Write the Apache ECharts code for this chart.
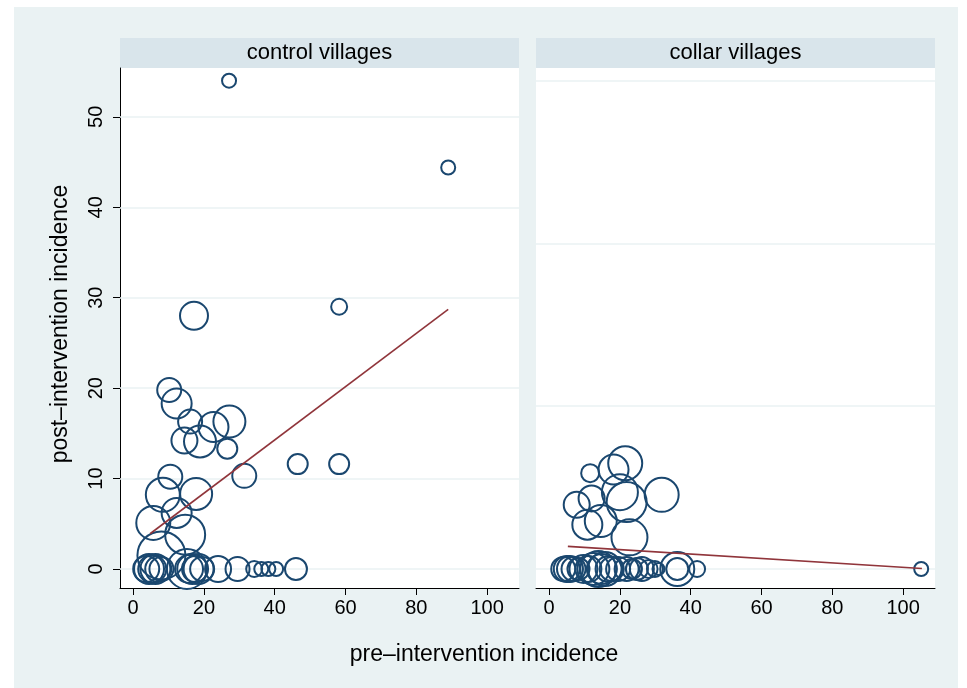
<!DOCTYPE html>
<html><head><meta charset="utf-8">
<script src="https://cdn.jsdelivr.net/npm/echarts@6/dist/echarts.min.js"></script>
<style>html,body{margin:0;padding:0;background:#fff}#c{width:967px;height:688px}</style>
</head><body><div id="c"></div><script>
const panelTitles = ['control villages', 'collar villages'];
const xTitle = 'pre–intervention incidence';
const yTitle = 'post–intervention incidence';
const xTicks = [0, 20, 40, 60, 80, 100];
const yTicks = [0, 10, 20, 30, 40, 50];
const gridLinesControl = [0, 10, 20, 30, 40, 50];
const gridLinesCollar = [0, 18, 36, 54];

// control villages: pre-intervention incidence, post-intervention incidence, weight
const controlPre = [27.1, 89.0, 17.2, 58.2, 10.2, 12.3, 16.1, 14.5, 18.9, 22.7, 27.2, 26.6,
  31.4, 46.5, 58.2, 10.5, 17.8, 8.4, 12.3, 5.7, 14.7, 8.0,
  3.7, 4.5, 5.4, 6.3, 7.1, 8.0, 15.2, 15.8, 16.7, 17.5, 18.5, 19.5, 24.0, 29.5, 34.2, 36.2, 38.2, 40.4, 46.0];
const controlPost = [54.0, 44.4, 28.0, 29.0, 19.8, 18.3, 16.3, 14.2, 14.1, 15.7, 16.3, 13.3,
  10.3, 11.6, 11.6, 10.2, 8.3, 8.2, 6.2, 5.1, 3.8, 1.5,
  0, 0, 0, 0, 0, 0, 0, 0, 0, 0, 0, 0, 0, 0, 0, 0, 0, 0, 0];
const controlWeight = [49, 49, 196, 64, 144, 225, 144, 169, 256, 225, 256, 100,
  144, 100, 100, 144, 256, 289, 225, 289, 400, 576,
  169, 225, 196, 225, 169, 144, 400, 196, 225, 169, 225, 144, 169, 144, 64, 49, 49, 49, 121];
const controlFitPre = [4.8, 89.0];
const controlFitPost = [3.9, 28.7];

// collar villages
const collarPre = [11.6, 21.5, 18.2, 31.8, 7.8, 12.0, 20.0, 21.9, 10.8, 14.6, 22.7,
  4.0, 5.0, 5.9, 6.9, 8.3, 9.7, 11.1, 12.5, 13.9, 14.9, 15.8, 16.8, 17.7, 19.5,
  21.9, 23.4, 24.8, 26.2, 28.1, 29.9, 30.9, 36.2, 36.2, 41.8, 105.1];
const collarPost = [10.6, 11.7, 11.0, 8.2, 7.1, 7.8, 8.5, 7.4, 4.9, 5.3, 3.5,
  0, 0, 0, 0, 0, 0, 0, 0, 0, 0, 0, 0, 0, 0,
  0, 0, 0, 0, 0, 0, 0, 0, 0, 0, 0];
const collarWeight = [81, 289, 225, 289, 169, 169, 324, 400, 225, 256, 324,
  144, 169, 169, 144, 121, 196, 169, 256, 324, 225, 289, 169, 144, 144,
  144, 100, 121, 144, 81, 64, 36, 289, 121, 64, 49];
const collarFitPre = [5.3, 105.3];
const collarFitPost = [2.5, 0.05];

const FONT = 'Liberation Sans, Arial, Helvetica, sans-serif';
const NAVY = '#1a476f';
const MAROON = '#90353b';
const GRIDC = '#eaf2f3';

const chart = echarts.init(document.getElementById('c'), null, {renderer: 'canvas'});

function xAxisDef(i) {
  return {
    type: 'value', gridIndex: i, min: -3.7, max: 109,
    axisLine: {show: true, onZero: false, lineStyle: {color: '#000', width: 1}},
    axisTick: {show: true, length: 7, customValues: xTicks, lineStyle: {color: '#000', width: 1}},
    axisLabel: {customValues: xTicks, fontSize: 20, color: '#000', margin: 10, fontFamily: FONT},
    splitLine: {show: false}
  };
}
function yAxisDef(i, visible) {
  return {
    type: 'value', gridIndex: i, min: -2.1, max: 55.4,
    axisLine: {show: visible, onZero: false, lineStyle: {color: '#000', width: 1}},
    axisTick: {show: visible, length: 7, customValues: yTicks, lineStyle: {color: '#000', width: 1}},
    axisLabel: {show: visible, customValues: yTicks, rotate: 90, fontSize: 20, color: '#000', margin: 14, fontFamily: FONT},
    splitLine: {show: false}
  };
}
function gridSeries(i, vals) {
  return {
    type: 'line', xAxisIndex: i, yAxisIndex: i, data: [], z: 1, silent: true,
    markLine: {
      z: 1, silent: true, symbol: ['none', 'none'], animation: false,
      label: {show: false},
      lineStyle: {color: GRIDC, width: 1.5, type: 'solid'},
      emphasis: {disabled: true},
      data: vals.map(v => ({yAxis: v}))
    }
  };
}
function scatterSeries(i, xs, ys, ws) {
  return {
    type: 'scatter', xAxisIndex: i, yAxisIndex: i, z: 3, silent: true,
    data: xs.map((x, k) => [x, ys[k], ws[k]]),
    symbol: 'circle',
    symbolSize: d => 2 * Math.sqrt(d[2]),
    itemStyle: {color: 'rgba(255,255,255,0)', borderColor: NAVY, borderWidth: 2, opacity: 1}
  };
}
function fitSeries(i, xs, ys) {
  return {
    type: 'line', xAxisIndex: i, yAxisIndex: i, z: 4, silent: true,
    data: xs.map((x, k) => [x, ys[k]]),
    showSymbol: false, symbol: 'none',
    lineStyle: {color: MAROON, width: 1.6}
  };
}

const option = {
  animation: false,
  backgroundColor: '#eaf2f3',
  grid: [
    {left: 120, top: 68, width: 399, height: 520, show: true, backgroundColor: '#fff', borderWidth: 0, containLabel: false},
    {left: 536, top: 68, width: 399, height: 520, show: true, backgroundColor: '#fff', borderWidth: 0, containLabel: false}
  ],
  xAxis: [xAxisDef(0), xAxisDef(1)],
  yAxis: [yAxisDef(0, true), yAxisDef(1, false)],
  series: [
    gridSeries(0, gridLinesControl),
    gridSeries(1, gridLinesCollar),
    scatterSeries(0, controlPre, controlPost, controlWeight),
    scatterSeries(1, collarPre, collarPost, collarWeight),
    fitSeries(0, controlFitPre, controlFitPost),
    fitSeries(1, collarFitPre, collarFitPost)
  ],
  graphic: [
    {type: 'rect', shape: {x: 0, y: 0, width: 14, height: 688}, style: {fill: '#fff'}, silent: true},
    {type: 'rect', shape: {x: 0, y: 0, width: 967, height: 7}, style: {fill: '#fff'}, silent: true},
    {type: 'rect', shape: {x: 958, y: 0, width: 9, height: 688}, style: {fill: '#fff'}, silent: true},
    {type: 'rect', shape: {x: 120, y: 38, width: 399, height: 30}, style: {fill: '#d9e5eb'}, silent: true},
    {type: 'rect', shape: {x: 536, y: 38, width: 399, height: 30}, style: {fill: '#d9e5eb'}, silent: true},
    {type: 'text', x: 319.5, y: 53, silent: true,
      style: {text: panelTitles[0], font: '22px ' + FONT, fill: '#000', align: 'center', verticalAlign: 'middle', textAlign: 'center', textVerticalAlign: 'middle'}},
    {type: 'text', x: 735.5, y: 53, silent: true,
      style: {text: panelTitles[1], font: '22px ' + FONT, fill: '#000', align: 'center', verticalAlign: 'middle', textAlign: 'center', textVerticalAlign: 'middle'}},
    {type: 'text', x: 484, y: 655, silent: true,
      style: {text: xTitle, font: '23px ' + FONT, fill: '#000', align: 'center', verticalAlign: 'middle', textAlign: 'center', textVerticalAlign: 'middle'}},
    {type: 'text', x: 61, y: 324, rotation: Math.PI / 2, silent: true,
      style: {text: yTitle, font: '23px ' + FONT, fill: '#000', align: 'center', verticalAlign: 'middle', textAlign: 'center', textVerticalAlign: 'middle'}}
  ]
};
chart.setOption(option);
</script></body></html>
